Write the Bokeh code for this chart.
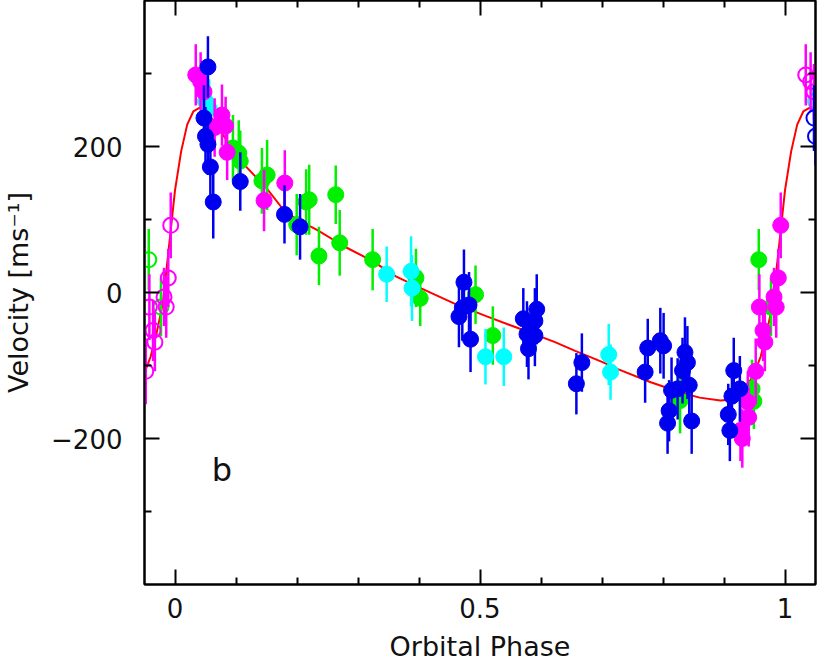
from bokeh.plotting import figure
from bokeh.models import Range1d, FixedTicker, LinearAxis
from bokeh.embed import file_html
from bokeh.resources import INLINE
from bokeh.core.properties import value

# ---- data ----
mag_phase = [0.034, 0.042, 0.0475, 0.065, 0.077, 0.083, 0.0855, 0.146, 0.180,
             0.927, 0.930, 0.939, 0.9405, 0.952, 0.958, 0.964, 0.967, 0.982,
             0.9856, 0.989, 0.993]
mag_vel = [298, 289, 275, 226, 243, 228, 192, 126, 150,
           -189, -200, -150, -171, -108, -20, -52, -68, -6,
           -20, 20, 92]
mag_err = [42, 40, 38, 40, 42, 40, 38, 42, 45,
           42, 40, 42, 40, 45, 45, 42, 40, 40,
           42, 40, 45]

blue_phase = [0.0475, 0.050, 0.054, 0.054, 0.058, 0.0627, 0.107, 0.1795, 0.205,
              0.4655, 0.471, 0.4737, 0.482, 0.4845, 0.571, 0.577, 0.5795, 0.590,
              0.590, 0.593, 0.658, 0.667, 0.7707, 0.775, 0.7956, 0.801, 0.8075,
              0.810, 0.814, 0.824, 0.832, 0.836, 0.840, 0.843, 0.847, 0.907,
              0.9096, 0.913, 0.916, 0.926]
blue_vel = [239, 214, 203, 309, 172, 124, 152, 107, 90,
            -33, -21, 14, -17, -64, -36, -57, -77, -39,
            -59, -23, -125, -96, -109, -76, -66, -73, -179,
            -162, -134, -132, -107, -82, -96, -127, -176, -167,
            -189, -142, -107, -132]
blue_err = [45, 40, 42, 42, 45, 50, 40, 40, 45,
            42, 45, 45, 45, 45, 42, 45, 42, 45,
            42, 48, 42, 40, 42, 40, 45, 45, 42,
            42, 45, 42, 45, 48, 50, 45, 45, 42,
            42, 40, 45, 45]

green_phase = [0.095, 0.1045, 0.107, 0.1425, 0.151, 0.1995, 0.215, 0.220, 0.236,
               0.2635, 0.270, 0.324, 0.395, 0.402, 0.4927, 0.521, 0.828, 0.946,
               0.949, 0.957, 0.977]
green_vel = [198, 191, 180, 153, 161, 93, 124, 127, 50,
             134, 68, 45, 20, -8, -3, -59, -148, -132,
             -149, 45, -20]
green_err = [45, 45, 42, 45, 48, 42, 45, 48, 40,
             40, 45, 42, 40, 38, 40, 40, 45, 40,
             38, 42, 40]

cyan_phase = [0.050, 0.056, 0.347, 0.387, 0.3885, 0.509, 0.539, 0.711, 0.714]
cyan_vel = [262, 252, 25, 29, 6, -88, -88, -85, -109]
cyan_err = [40, 40, 38, 48, 45, 38, 40, 42, 38]

model_phase = [-0.05, -0.04, -0.03, -0.02, -0.01, 0.0, 0.01, 0.02, 0.03, 0.04,
               0.045, 0.05, 0.06, 0.077, 0.10, 0.118, 0.15, 0.178, 0.20, 0.232,
               0.28, 0.324, 0.362, 0.40, 0.46, 0.509, 0.56, 0.623, 0.656, 0.70,
               0.726, 0.78, 0.829, 0.86, 0.894, 0.91, 0.927, 0.94, 0.95, 0.96,
               0.97, 0.98, 0.99, 1.0, 1.01, 1.02, 1.03, 1.04, 1.05]
model_vel = [-110, -88, -55, -15, 62, 140, 193, 230, 248, 253,
             254, 248, 238, 218, 190, 171, 143, 113, 100, 86,
             62, 43, 22, 7, -16, -32, -48, -68, -80, -95,
             -105, -123, -137, -144, -148, -147, -139, -125, -110, -88,
             -55, -15, 62, 140, 193, 230, 248, 253, 250]

x_major = [0, 0.5, 1]
x_minor = [0.1, 0.2, 0.3, 0.4, 0.6, 0.7, 0.8, 0.9]
y_major = [-200, 0, 200]
y_minor = [-300, -100, 100, 300]
x_labels = {0: "0", 0.5: "0.5", 1: "1"}
y_labels = {-200: "\u2212200", 0: "0", 200: "200"}

X_RANGE = (-0.05, 1.05)
Y_RANGE = (-400, 400)
WRAP = 0.05          # phase margin shown twice (open circles)

FONT = "DejaVu Sans"
TXT = "#111111"

p = figure(width=822, height=664, output_backend="svg", toolbar_location=None,
           x_range=Range1d(*X_RANGE), y_range=Range1d(*Y_RANGE),
           min_border_left=139, min_border_right=7, min_border_top=0,
           min_border_bottom=80)
p.xgrid.visible = False
p.ygrid.visible = False
p.outline_line_color = "black"
p.outline_line_width = 2
p.background_fill_color = "white"
p.border_fill_color = "white"


def style_axis(ax, ticks, minor, labels, show_labels):
    ax.ticker = FixedTicker(ticks=ticks, minor_ticks=minor)
    ax.major_tick_in = 15
    ax.major_tick_out = 0
    ax.minor_tick_in = 7
    ax.minor_tick_out = 0
    ax.major_tick_line_width = 2
    ax.minor_tick_line_width = 2
    ax.major_tick_line_color = "black"
    ax.minor_tick_line_color = "black"
    ax.axis_line_color = "black"
    ax.axis_line_width = 2
    if show_labels:
        ax.major_label_overrides = labels
        ax.major_label_text_font = FONT
        ax.major_label_text_font_size = "26px"
        ax.major_label_text_color = TXT
    else:
        ax.major_label_overrides = {t: "" for t in ticks}
        ax.major_label_text_font_size = "1px"
        ax.major_label_standoff = 0


xa = p.xaxis[0]
ya = p.yaxis[0]
style_axis(xa, x_major, x_minor, x_labels, True)
style_axis(ya, y_major, y_minor, y_labels, True)
xa.major_label_standoff = 13
ya.major_label_standoff = 22
xa.axis_label = "Orbital Phase"
ya.axis_label = "Velocity [ms\u207b\u00b9]"
for ax in (xa, ya):
    ax.axis_label_text_font = FONT
    ax.axis_label_text_font_size = "27px"
    ax.axis_label_text_font_style = "normal"
    ax.axis_label_text_color = TXT
xa.axis_label_standoff = 10
ya.axis_label_standoff = 14

top = LinearAxis()
right = LinearAxis()
style_axis(top, x_major, x_minor, x_labels, False)
style_axis(right, y_major, y_minor, y_labels, False)
p.add_layout(top, "above")
p.add_layout(right, "right")

# model curve
p.line(model_phase, model_vel, line_color="#ff0000", line_width=2)

series = [
    (green_phase, green_vel, green_err, "#00f000"),
    (cyan_phase, cyan_vel, cyan_err, "#00ffff"),
    (mag_phase, mag_vel, mag_err, "#ff00ff"),
    (blue_phase, blue_vel, blue_err, "#0000f0"),
]

for ph, v, e, col in series:
    # repeated copies of the points near phase 0/1 (open circles)
    lo = [i for i, x in enumerate(ph) if x >= 1 - WRAP]
    hi = [i for i, x in enumerate(ph) if x <= WRAP]
    wph = [ph[i] - 1 for i in lo] + [ph[i] + 1 for i in hi]
    wv = [v[i] for i in lo] + [v[i] for i in hi]
    we = [e[i] for i in lo] + [e[i] for i in hi]
    if wph:
        p.segment(x0=wph, y0=[a - b for a, b in zip(wv, we)], x1=wph,
                  y1=[a + b for a, b in zip(wv, we)], line_color=col, line_width=2.5)
        p.scatter(wph, wv, marker="circle", size=15, fill_color=None,
                  line_color=col, line_width=2)

for ph, v, e, col in series:
    p.segment(x0=ph, y0=[a - b for a, b in zip(v, e)], x1=ph,
              y1=[a + b for a, b in zip(v, e)], line_color=col, line_width=2.5)
    p.scatter(ph, v, marker="circle", size=16, fill_color=col, line_color=col,
              line_width=1)

p.text(x=[0.077], y=[-243], text=["b"], text_font=value(FONT),
       text_font_size="32px", text_align="center", text_baseline="middle",
       text_color=TXT)

open("out.html", "w").write(file_html(p, INLINE))
